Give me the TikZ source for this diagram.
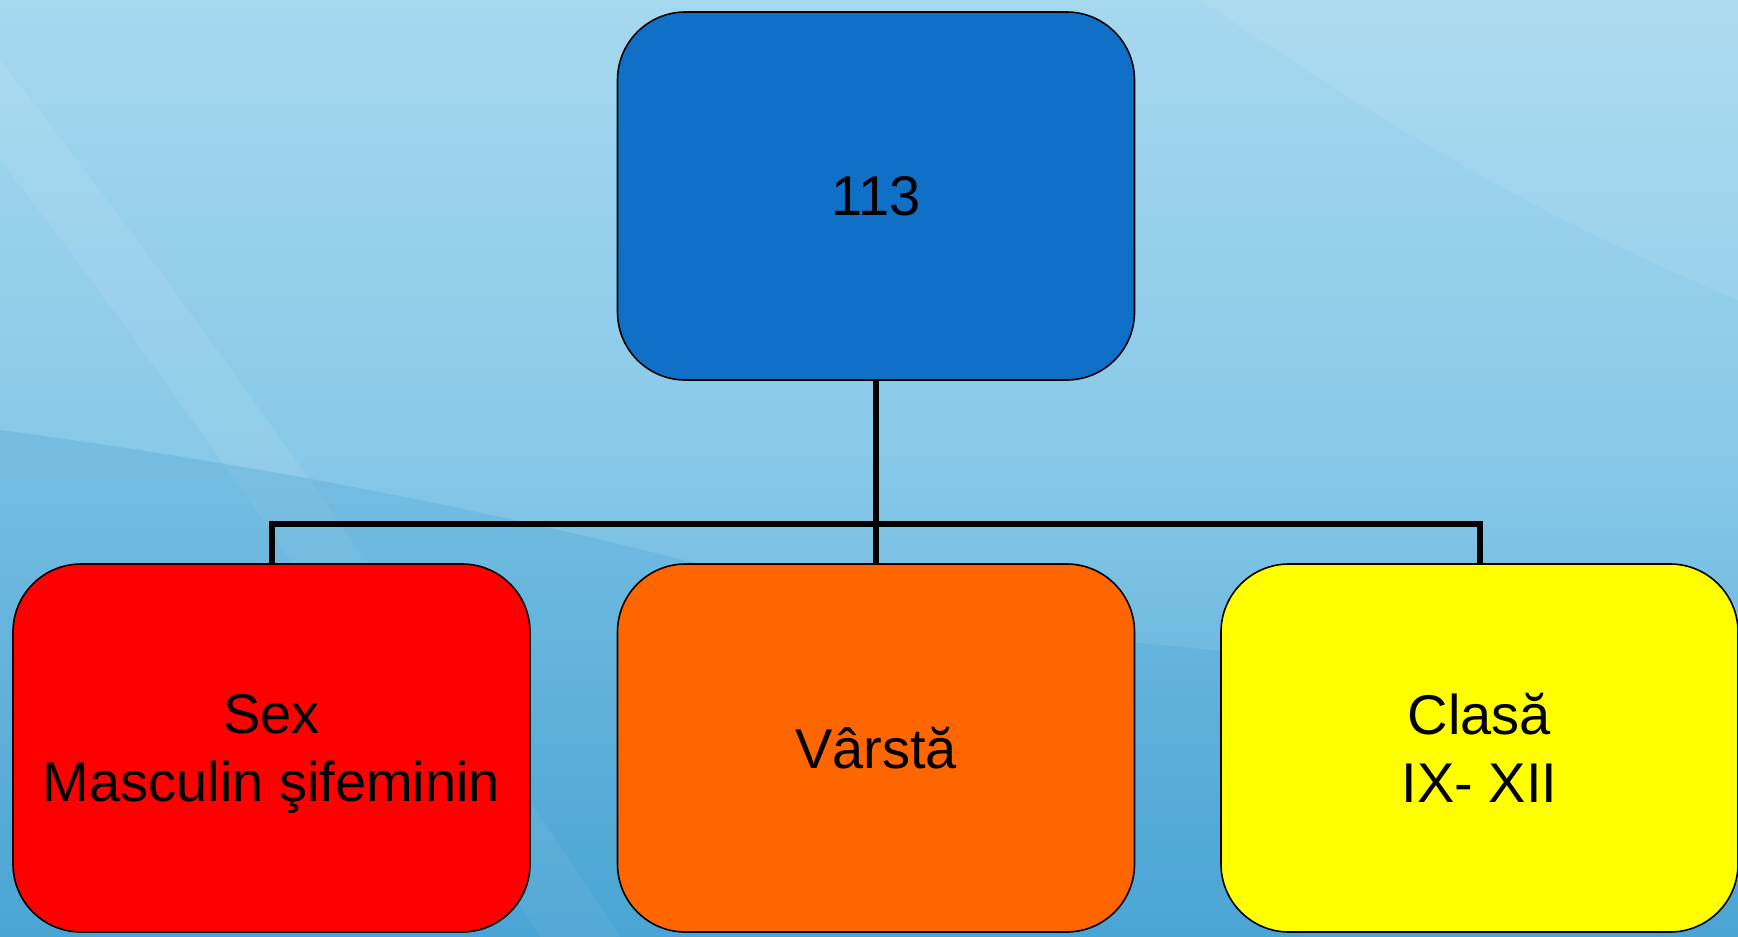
\documentclass[tikz,border=0pt]{standalone}
\usepackage{fontspec}
\setmainfont{Liberation Sans}
\definecolor{bgtop}{RGB}{166,216,238}
\definecolor{bgmid}{RGB}{135,200,232}
\definecolor{bgbot}{RGB}{75,165,212}
\definecolor{boxblue}{RGB}{16,112,200}
\definecolor{boxred}{RGB}{255,0,0}
\definecolor{boxorange}{RGB}{255,102,0}
\definecolor{boxyellow}{RGB}{255,255,0}
\begin{document}
\begin{tikzpicture}[x=1pt,y=-1pt,
  card/.style={draw=black,line width=1.6pt,rounded corners=68pt,
    minimum width=517pt,minimum height=368pt,inner sep=0pt,align=center,
    font=\fontsize{56}{68}\selectfont,text=black},
  link/.style={draw=black,line width=6pt}]
\useasboundingbox (0,0) rectangle (1738,937);
% background
\shade[top color=bgtop,bottom color=bgbot,middle color=bgmid] (0,0) rectangle (1738,937);
\fill[white,opacity=0.08] (0,60) .. controls (150,250) and (400,600) .. (620,937) -- (540,937) .. controls (340,620) and (110,300) .. (0,160) -- cycle;
\fill[bgbot,opacity=0.3] (0,430) .. controls (300,470) and (600,530) .. (900,620) -- (1738,700) -- (1738,937) -- (0,937) -- cycle;
\fill[white,opacity=0.08] (1200,0) -- (1738,0) -- (1738,300) .. controls (1500,200) and (1350,100) .. (1200,0) -- cycle;
% nodes
\node[card,fill=boxblue] (top) at (876,196) {113};
\node[card,fill=boxred] (sex) at (271.5,748) {Sex\\Masculin \smash{ş}ifeminin};
\node[card,fill=boxorange] (age) at (876,748) {Vârstă};
\node[card,fill=boxyellow] (cls) at (1479.5,748) {Clasă\\IX- XII};
% connectors
\coordinate (bus) at (876,524);
\draw[link] (top.south) -- (age.north);
\draw[link] (sex.north) |- (bus) -| (cls.north);
\end{tikzpicture}
\end{document}
